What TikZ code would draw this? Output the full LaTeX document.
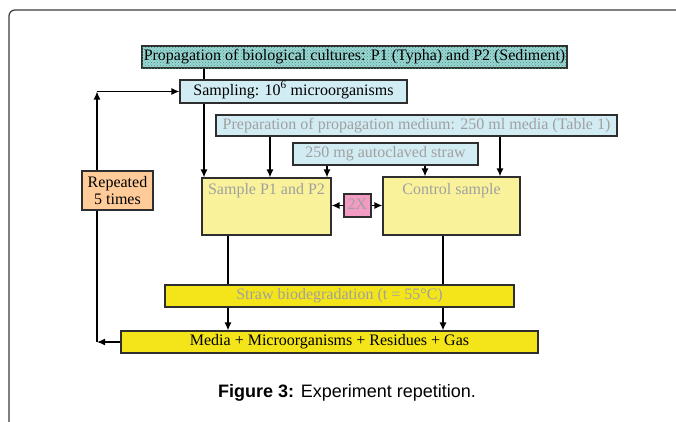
\documentclass[tikz,border=0pt]{standalone}
\usepackage{fontspec}
\setmainfont{Liberation Serif}
\newfontfamily\capfont{Liberation Sans}
\usetikzlibrary{arrows.meta,patterns,backgrounds}
\definecolor{bordercol}{HTML}{2E2E2E}
\definecolor{framecol}{HTML}{3A3A3A}
\definecolor{lightbluefill}{HTML}{D2ECF3}
\definecolor{paleyellow}{HTML}{FAF29A}
\definecolor{strongyellow}{HTML}{F4E51A}
\definecolor{pinkfill}{HTML}{F39BC2}
\definecolor{orangefill}{HTML}{FFCC99}
\definecolor{greytext}{HTML}{A0A0A0}
\definecolor{propbg}{HTML}{9CD6DB}
\definecolor{propdot}{HTML}{3F9660}
\begin{document}
\begin{tikzpicture}[x=1pt,y=-1pt,
  box/.style={draw=bordercol, line width=1.2pt, inner sep=0pt, text height=11pt, text depth=3.5pt,
    font=\fontsize{16}{17.5}\selectfont},
  arr/.style={-{Latex[length=8pt,width=7pt]}, line width=1.3pt, draw=black},
  greylabel/.style={text=greytext, inner sep=0pt, font=\fontsize{16}{17.5}\selectfont, anchor=base}]
\useasboundingbox (0,0) rectangle (676,421);
% outer frame
\draw[framecol, line width=1.2pt, rounded corners=6pt] (677,10) -- (9,10) -- (9,422);

% boxes
\node[box, fill=propbg, postaction={pattern=crosshatch dots, pattern color=propdot},
  minimum width=425pt, minimum height=22pt] (prop) at (354.5,57)
  {Propagation of biological cultures: P1 (Typha) and P2 (Sediment)};
\node[box, fill=lightbluefill, minimum width=227pt, minimum height=23pt] (samp) at (293.5,91.5)
  {Sampling: 10\textsuperscript{6} microorganisms};
\node[box, fill=lightbluefill, text=greytext, minimum width=401pt, minimum height=21pt] (prep) at (416.5,125.5)
  {Preparation of propagation medium: 250 ml media (Table 1)};
\node[box, fill=lightbluefill, text=greytext, minimum width=185pt, minimum height=22pt] (straw) at (385.5,154)
  {250 mg autoclaved straw};
\node[box, fill=paleyellow, minimum width=129pt, minimum height=57pt] (p1) at (266.5,206.5) {};
\node[greylabel] (p1t) at (266.5,194) {Sample P1 and P2};
\node[box, fill=paleyellow, minimum width=137pt, minimum height=58pt] (ctrl) at (451.5,206) {};
\node[greylabel] (ctrlt) at (451.5,194) {Control sample};
\node[box, fill=pinkfill, text=greytext, minimum width=27pt, minimum height=23pt] (twox) at (357.5,205.5) {2X};
\node[box, fill=orangefill, align=center, text height=, text depth=, minimum width=71pt, minimum height=39pt] (rep) at (117.5,190.5)
  {Repeated\\5 times};
\node[box, fill=strongyellow, text=greytext, minimum width=349pt, minimum height=22pt] (biod) at (339.5,296)
  {Straw biodegradation (t = 55°C)};
\node[box, fill=strongyellow, minimum width=417pt, minimum height=22pt] (media) at (329.5,342)
  {Media + Microorganisms + Residues + Gas};

\node[font=\capfont\fontsize{18}{20}\selectfont, inner sep=0pt] (cap) at (347,393)
  {\textbf{Figure 3:} Experiment repetition.};

% x positions of connectors
\coordinate (xa) at (204,0);
\coordinate (xb) at (270,0);
\coordinate (xc) at (327,0);
\coordinate (xd) at (425,0);
\coordinate (xe) at (500,0);
\coordinate (xf) at (228,0);
\coordinate (xg) at (443,0);
\coordinate (xl) at (97,0);

\begin{scope}[on background layer]
  \draw[arr] (prop.south -| xa) -- (p1.north -| xa);
  \draw[arr] (prep.south -| xb) -- (p1.north -| xb);
  \draw[arr] (prep.south -| xe) -- (ctrl.north -| xe);
  \draw[arr] (straw.south -| xc) -- (p1.north -| xc);
  \draw[arr] (straw.south -| xd) -- (ctrl.north -| xd);
  \draw[arr] (p1.south -| xf) -- (media.north -| xf);
  \draw[arr] (ctrl.south -| xg) -- (media.north -| xg);
  \draw[arr] (media.west) -- (media.west -| xl);
  \draw[arr] (media.west -| xl) -- (samp.west -| xl);
  \draw[arr] (samp.west -| xl) -- (samp.west);
\end{scope}
\draw[arr] (twox.west) -- (twox.west -| p1.east);
\draw[arr] (twox.east) -- (twox.east -| ctrl.west);
\end{tikzpicture}
\end{document}
